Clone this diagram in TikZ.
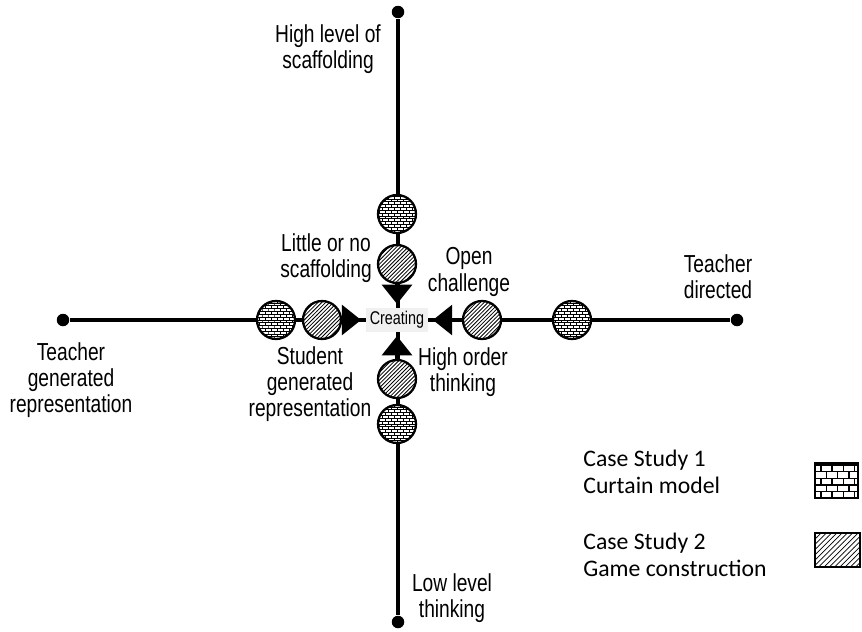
\documentclass[tikz,border=0pt]{standalone}
\usepackage{fontspec}
\setmainfont{Liberation Sans}
\newfontfamily\narrowsans[FakeStretch=0.78]{Liberation Sans}
\newfontfamily\legendfont{Carlito}
\usetikzlibrary{arrows.meta,patterns}

% small bricks for the balls
\pgfdeclarepatternformonly{tinybricks}{\pgfqpoint{-0.3pt}{-0.3pt}}{\pgfqpoint{3.7pt}{3.5pt}}{\pgfqpoint{3.4pt}{3.2pt}}{%
  \pgfsetlinewidth{0.5pt}%
  \pgfpathmoveto{\pgfqpoint{0pt}{0pt}}\pgfpathlineto{\pgfqpoint{3.4pt}{0pt}}%
  \pgfpathmoveto{\pgfqpoint{0pt}{1.6pt}}\pgfpathlineto{\pgfqpoint{3.4pt}{1.6pt}}%
  \pgfpathmoveto{\pgfqpoint{0pt}{0pt}}\pgfpathlineto{\pgfqpoint{0pt}{1.6pt}}%
  \pgfpathmoveto{\pgfqpoint{1.7pt}{1.6pt}}\pgfpathlineto{\pgfqpoint{1.7pt}{3.2pt}}%
  \pgfusepath{stroke}}
% bigger bricks for the key
\pgfdeclarepatternformonly{bigbricks}{\pgfqpoint{-0.5pt}{-0.5pt}}{\pgfqpoint{6.9pt}{8.1pt}}{\pgfqpoint{6.4pt}{7.6pt}}{%
  \pgfsetlinewidth{0.8pt}%
  \pgfpathmoveto{\pgfqpoint{0pt}{0pt}}\pgfpathlineto{\pgfqpoint{6.4pt}{0pt}}%
  \pgfpathmoveto{\pgfqpoint{0pt}{3.8pt}}\pgfpathlineto{\pgfqpoint{6.4pt}{3.8pt}}%
  \pgfpathmoveto{\pgfqpoint{0pt}{0pt}}\pgfpathlineto{\pgfqpoint{0pt}{3.8pt}}%
  \pgfpathmoveto{\pgfqpoint{3.2pt}{3.8pt}}\pgfpathlineto{\pgfqpoint{3.2pt}{7.6pt}}%
  \pgfusepath{stroke}}
% dense hatching
\pgfdeclarepatternformonly{finehatch}{\pgfqpoint{-0.5pt}{-0.5pt}}{\pgfqpoint{2.7pt}{2.7pt}}{\pgfqpoint{2.2pt}{2.2pt}}{%
  \pgfsetlinewidth{0.45pt}%
  \pgfpathmoveto{\pgfqpoint{0pt}{0pt}}\pgfpathlineto{\pgfqpoint{2.3pt}{2.3pt}}%
  \pgfusepath{stroke}}

\begin{document}
\begin{tikzpicture}[x=0.02cm,y=-0.02cm,
    axis/.style={line width=2.1pt},
    dotend/.style={circle,fill=black,inner sep=0pt,minimum size=0.25cm},
    ball/.style={circle,draw=black,line width=1.3pt,inner sep=0pt,minimum size=0.76cm,preaction={fill=white}},
    brickball/.style={ball,pattern=tinybricks},
    hatchball/.style={ball,pattern=finehatch},
    arr/.style={line width=2.1pt,-{Triangle[width=17pt,length=11pt]}},
    lbl/.style={font=\narrowsans\fontsize{14}{15}\selectfont,align=center,inner sep=0pt},
    keytxt/.style={font=\legendfont\fontsize{13.5}{15}\selectfont,align=left,anchor=west,inner sep=0pt},
    keybox/.style={draw=black,line width=1.2pt,inner sep=0pt,minimum width=0.86cm,minimum height=0.7cm}]
    \useasboundingbox (0,0) rectangle (862,632);

    % 1. Axes with their end dots
    \node[dotend] (topend) at (398,12) {};
    \node[dotend] (botend) at (398,622) {};
    \node[dotend] (leftend) at (63,320) {};
    \node[dotend] (rightend) at (737,320) {};
    \draw[axis] (topend) -- (botend);
    \draw[axis] (leftend) -- (rightend);

    % 2. Centre
    \node[fill=gray!12,inner sep=0pt,minimum width=1.24cm,minimum height=0.48cm,
          outer xsep=2.8pt,outer ysep=2.3pt,font=\narrowsans\fontsize{10.5}{12}\selectfont]
          (creating) at (397,320) {Creating};

    % 3. Balls on each axis
    \node[brickball] (upbrick) at (397,214) {};
    \node[hatchball] (uphatch) at (397,264) {};
    \node[hatchball] (downhatch) at (397,379) {};
    \node[brickball] (downbrick) at (397,424) {};
    \node[brickball] (leftbrick) at (276,320) {};
    \node[hatchball] (lefthatch) at (322,320) {};
    \node[hatchball] (righthatch) at (482,320) {};
    \node[brickball] (rightbrick) at (572,320) {};

    % 4. Arrows into the centre
    \draw[arr] (uphatch) -- (creating);
    \draw[arr] (downhatch) -- (creating);
    \draw[arr] (lefthatch) -- (creating);
    \draw[arr] (righthatch) -- (creating);

    % 5. Labels
    \node[lbl] (highscaf) at (328,49) {High level of\\scaffolding};
    \node[lbl] (littlescaf) at (326,258) {Little or no\\scaffolding};
    \node[lbl] (openchal) at (469,272) {Open\\challenge};
    \node[lbl] (teachdir) at (718,277) {Teacher\\directed};
    \node[lbl] (teachgen) at (71,380) {Teacher\\generated\\representation};
    \node[lbl] (studgen) at (310,384) {Student\\generated\\representation};
    \node[lbl] (highorder) at (463,372) {High order\\thinking};
    \node[lbl] (lowlevel) at (452,598) {Low level\\thinking};

    % 6. Key
    \node[keytxt] (keyone) at (583,472) {Case Study 1\\Curtain model};
    \node[keytxt] (keytwo) at (583,555) {Case Study 2\\Game construction};
    \node[keybox,line width=1.5pt,pattern=bigbricks] (keybrick) at (836.5,480.5) {};
    \node[keybox,minimum width=0.9cm,minimum height=0.68cm,pattern=north east lines] (keyhatch) at (837.5,550) {};
\end{tikzpicture}
\end{document}
